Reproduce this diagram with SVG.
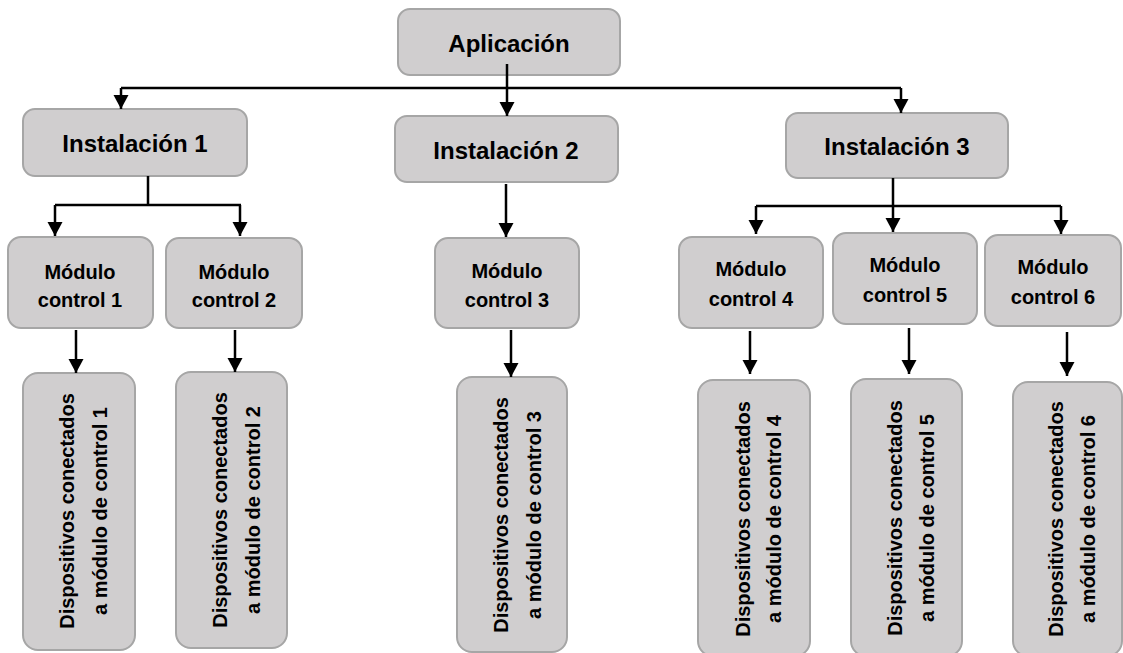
<svg xmlns="http://www.w3.org/2000/svg" width="1123" height="653" viewBox="0 0 1123 653">
<style>
.box{fill:#d0cecf;stroke:#a6a6a6;stroke-width:2}
.t{font-family:"Liberation Sans",Arial,sans-serif;font-weight:bold;fill:#000;text-anchor:middle}
.big{font-size:24px}
.mid{font-size:20px}
.sm{font-size:20px}
.c{fill:none;stroke:#000;stroke-width:2.5}
.ca{fill:none;stroke:#000;stroke-width:2.5;marker-end:url(#ah)}
</style>
<defs>
<marker id="ah" markerUnits="userSpaceOnUse" markerWidth="16" markerHeight="16" viewBox="0 0 16 16" refX="14" refY="8" orient="auto">
<path d="M0,0.5 L14,8 L0,15.5 Z" fill="#000"/>
</marker>
</defs>
<rect width="1123" height="653" fill="#fff"/>
<g id="nodes">
<g id="aplicacion"><rect class="box" x="398" y="9" width="222" height="66" rx="12"/><text class="t big" x="509" y="52">Aplicación</text></g>
<g id="inst1"><rect class="box" x="23" y="109" width="224" height="67" rx="12"/><text class="t big" x="135" y="152">Instalación 1</text></g>
<g id="inst2"><rect class="box" x="395" y="116" width="223" height="66" rx="12"/><text class="t big" x="506" y="159">Instalación 2</text></g>
<g id="inst3"><rect class="box" x="786" y="113" width="222" height="65" rx="12"/><text class="t big" x="897" y="155">Instalación 3</text></g>
<g id="mod1"><rect class="box" x="8" y="237" width="145" height="91" rx="13"/><text class="t mid" x="80" y="279">Módulo</text><text class="t mid" x="80" y="307">control 1</text></g>
<g id="mod2"><rect class="box" x="166" y="238" width="136" height="90" rx="13"/><text class="t mid" x="234" y="279">Módulo</text><text class="t mid" x="234" y="307">control 2</text></g>
<g id="mod3"><rect class="box" x="435" y="238" width="144" height="90" rx="13"/><text class="t mid" x="507" y="278">Módulo</text><text class="t mid" x="507" y="307">control 3</text></g>
<g id="mod4"><rect class="box" x="679" y="237" width="144" height="91" rx="13"/><text class="t mid" x="751" y="276">Módulo</text><text class="t mid" x="751" y="306">control 4</text></g>
<g id="mod5"><rect class="box" x="833" y="233" width="144" height="91" rx="13"/><text class="t mid" x="905" y="272">Módulo</text><text class="t mid" x="905" y="302">control 5</text></g>
<g id="mod6"><rect class="box" x="985" y="235" width="136" height="91" rx="13"/><text class="t mid" x="1053" y="274">Módulo</text><text class="t mid" x="1053" y="304">control 6</text></g>
<g id="disp1"><rect class="box" x="23" y="373" width="112" height="277" rx="15"/><g transform="translate(79,511) rotate(-90)"><text class="t sm" x="0" y="-5">Dispositivos conectados</text><text class="t sm" x="0" y="28">a módulo de control 1</text></g></g>
<g id="disp2"><rect class="box" x="176" y="372" width="111" height="276" rx="15"/><g transform="translate(231,510) rotate(-90)"><text class="t sm" x="0" y="-4">Dispositivos conectados</text><text class="t sm" x="0" y="29">a módulo de control 2</text></g></g>
<g id="disp3"><rect class="box" x="457" y="377" width="110" height="275" rx="15"/><g transform="translate(512,515) rotate(-90)"><text class="t sm" x="0" y="-4">Dispositivos conectados</text><text class="t sm" x="0" y="29">a módulo de control 3</text></g></g>
<g id="disp4"><rect class="box" x="698" y="380" width="112" height="276" rx="15"/><g transform="translate(754,519) rotate(-90)"><text class="t sm" x="0" y="-4">Dispositivos conectados</text><text class="t sm" x="0" y="27">a módulo de control 4</text></g></g>
<g id="disp5"><rect class="box" x="851" y="379" width="111" height="277" rx="15"/><g transform="translate(906,518) rotate(-90)"><text class="t sm" x="0" y="-4">Dispositivos conectados</text><text class="t sm" x="0" y="28">a módulo de control 5</text></g></g>
<g id="disp6"><rect class="box" x="1013" y="382" width="109" height="274" rx="15"/><g transform="translate(1067,519) rotate(-90)"><text class="t sm" x="0" y="-4">Dispositivos conectados</text><text class="t sm" x="0" y="28">a módulo de control 6</text></g></g>
</g>
<g id="connectors">
<path class="c" d="M121,88 H901"/>
<path class="ca" d="M121,88 V109"/>
<path class="ca" d="M901,88 V113"/>
<path class="ca" d="M507,64 V116"/>
<path class="c" d="M148,176 V205 M55,205 H241"/>
<path class="ca" d="M55,205 V236"/>
<path class="ca" d="M240,205 V236"/>
<path class="ca" d="M506,184 V237"/>
<path class="c" d="M893,178 V206 M756,206 H1061"/>
<path class="ca" d="M756,206 V234"/>
<path class="ca" d="M893,206 V232"/>
<path class="ca" d="M1061,206 V234"/>
<path class="ca" d="M76,330 V373"/>
<path class="ca" d="M235,330 V372"/>
<path class="ca" d="M511,330 V377"/>
<path class="ca" d="M750,331 V374"/>
<path class="ca" d="M909,328 V374"/>
<path class="ca" d="M1067,332 V376"/>
</g>
</svg>
